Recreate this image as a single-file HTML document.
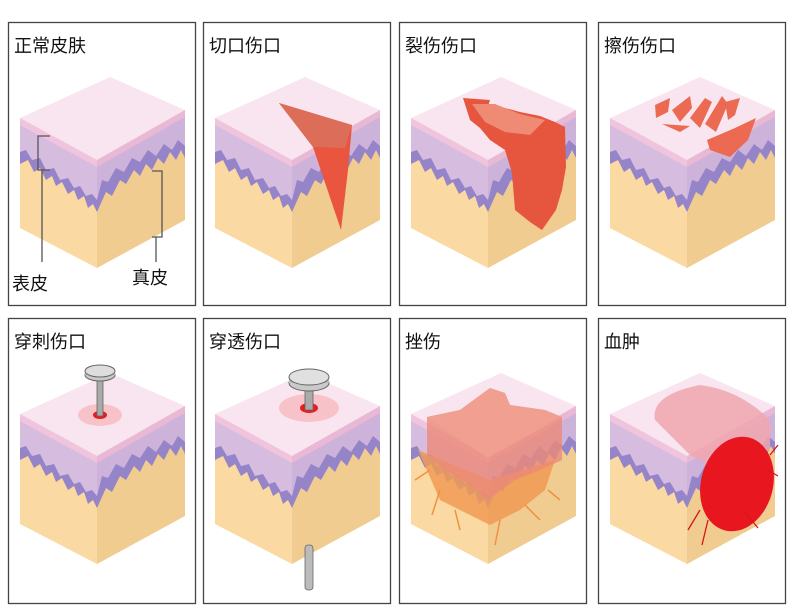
<!DOCTYPE html>
<html><head><meta charset="utf-8"><style>
body{margin:0;background:#fff;}
svg{display:block}
text{font-family:"Liberation Sans","Noto Sans CJK SC",sans-serif;font-size:18px;fill:#111}
</style></head><body>
<svg width="800" height="612" viewBox="0 0 800 612" xmlns="http://www.w3.org/2000/svg">
<defs>
<g id="cube">
<polygon points="20,118 97,160 97,268 20,228" fill="#fbd9a2"/>
<polygon points="97,160 185,110 185,220 97,268" fill="#f1cc90"/>
<path d="M20,118 L97,160 L97,212 L93,204 L88,208 L84,196 L78,200 L74,190 L68,194 L62,182 L56,186 L52,176 L46,180 L40,168 L34,172 L28,160 L20,164 Z" fill="#9584c8"/>
<path d="M97,160 L185,110 L185,158 L181,150 L176,160 L170,152 L164,164 L158,158 L152,170 L146,164 L140,176 L134,170 L126,184 L120,180 L112,196 L106,192 L97,212 Z" fill="#9584c8"/>
<path d="M20,118 L97,160 L97,200 L92,194 L86,196 L80,186 L74,188 L68,178 L60,180 L54,168 L46,170 L40,158 L32,160 L26,150 L20,152 Z" fill="#d6bde0"/>
<path d="M97,160 L185,110 L185,146 L178,140 L172,150 L164,144 L156,156 L148,150 L140,162 L132,158 L124,172 L116,168 L108,182 L102,180 L97,200 Z" fill="#cdb3da"/>
<polygon points="20,118 97,160 97,167 20,125" fill="#f0c4dc"/>
<polygon points="97,160 185,110 185,117 97,167" fill="#e8b8d4"/>
<polygon points="20,118 110,77 185,110 97,160" fill="#f9e5f0"/>
</g>
</defs>
<g fill="none" stroke="#444" stroke-width="1.3">
<rect x="8.5" y="22.5" width="187" height="283"/><rect x="203.5" y="22.5" width="187" height="283"/>
<rect x="399.5" y="22.5" width="187" height="283"/><rect x="598.5" y="22.5" width="187" height="283"/>
<rect x="8.5" y="318.5" width="187" height="285"/><rect x="203.5" y="318.5" width="187" height="285"/>
<rect x="399.5" y="318.5" width="187" height="285"/><rect x="598.5" y="318.5" width="187" height="285"/>
</g>
<use href="#cube"/><use href="#cube" x="195"/><use href="#cube" x="391"/><use href="#cube" x="590"/>
<use href="#cube" y="296"/><use href="#cube" x="195" y="296"/><use href="#cube" x="391" y="296"/><use href="#cube" x="590" y="296"/>
<text x="14" y="52">正常皮肤</text><text x="209" y="52">切口伤口</text><text x="405" y="52">裂伤伤口</text><text x="604" y="52">擦伤伤口</text>
<text x="14" y="348">穿刺伤口</text><text x="209" y="348">穿透伤口</text><text x="405" y="348">挫伤</text><text x="604" y="348">血肿</text>
<text x="12" y="290">表皮</text><text x="132" y="284">真皮</text>
<g fill="none" stroke="#555" stroke-width="1.3">
<path d="M50,136 H38 V170 H50 M42,170 V262"/>
<path d="M152,171 H162 V237 H152 M156,237 V262"/>
</g>
<!-- cut -->
<polygon points="279,103 352,125 348,170 341,230 313,147" fill="#e9553e"/>
<polygon points="279,103 352,125 345,148 313,147" fill="#d9735e" opacity=".85"/>
<!-- laceration -->
<path d="M463,98 L490,100 L488,106 L505,108 L520,112 L540,116 L555,122 L565,127 L566,167 L562,190 L556,210 L542,230 L530,222 L515,210 L512,173 L505,150 L490,140 L480,128 L470,120 Z" fill="#e6553e"/>
<path d="M472,104 L495,104 L520,114 L545,120 L530,135 L505,132 L485,122 Z" fill="#ef8a74"/>
<!-- abrasion -->
<g fill="#ec6a52">
<path d="M655,105 L670,98 L668,112 L656,118 Z"/><path d="M672,110 L690,96 L692,108 L680,122 Z"/>
<path d="M690,118 L705,98 L712,102 L700,128 Z"/><path d="M705,124 L722,96 L728,104 L716,132 Z"/>
<path d="M725,102 L740,98 L735,115 L728,120 Z"/><path d="M662,124 L690,126 L680,132 Z"/>
<path d="M707,140 L735,128 L756,118 L748,140 L730,157 L710,150 Z"/>
</g>
<!-- puncture -->
<ellipse cx="100" cy="415" rx="22" ry="11" fill="#f7c3c8"/><ellipse cx="100" cy="415" rx="7" ry="4" fill="#e41d22"/>
<rect x="97" y="378" width="6" height="38" fill="#aaa" stroke="#666" stroke-width=".8"/>
<ellipse cx="100" cy="375" rx="15" ry="6" fill="#c9c9c9" stroke="#666"/><rect x="85" y="371" width="30" height="4" fill="#bbb"/><ellipse cx="100" cy="371" rx="15" ry="6" fill="#ddd" stroke="#666"/>
<!-- penetrating -->
<ellipse cx="309" cy="408" rx="30" ry="14" fill="#f7c3c8"/><ellipse cx="309" cy="408" rx="9" ry="5" fill="#e41d22"/>
<rect x="305" y="384" width="8" height="26" fill="#aaa" stroke="#666" stroke-width=".8"/>
<rect x="305" y="545" width="8" height="45" rx="3" fill="#bbb" stroke="#666" stroke-width=".8"/>
<ellipse cx="309" cy="383" rx="20" ry="8" fill="#c9c9c9" stroke="#666"/><rect x="289" y="377" width="40" height="6" fill="#bbb"/><ellipse cx="309" cy="377" rx="20" ry="8" fill="#e0e0e0" stroke="#666"/>
<!-- contusion -->
<path d="M418,450 L440,500 L470,515 L490,525 L520,510 L545,490 L555,460 L490,480 Z" fill="#f09a55" opacity=".85"/>
<path d="M427,417 L460,410 L490,388 L505,393 L510,405 L545,410 L562,417 L562,460 L540,470 L515,480 L488,500 L470,485 L445,470 L427,455 Z" fill="#ec8a78" opacity=".8"/>
<path d="M427,417 L460,410 L490,388 L505,393 L510,405 L545,410 L562,417 L488,458 Z" fill="#f0a090" opacity=".9"/>
<g stroke="#f09040" stroke-width="1.5" fill="none"><path d="M430,470 L415,480 M440,490 L432,515 M455,510 L460,530 M500,520 L495,545 M525,505 L540,520 M548,490 L560,500"/></g>
<!-- hematoma -->
<path d="M655,420 Q650,395 700,385 Q740,390 770,420 L770,450 L720,470 L690,455 Z" fill="#f0a6ae" opacity=".85"/>
<ellipse cx="737" cy="484" rx="36" ry="48" transform="rotate(15 737 484)" fill="#e8161e"/>
<g stroke="#d8141c" stroke-width="1.3" fill="none"><path d="M700,510 L688,530 M708,520 L702,545 M745,512 L758,528 M768,470 L778,476 M770,455 L778,445"/></g>
</svg>
</body></html>
